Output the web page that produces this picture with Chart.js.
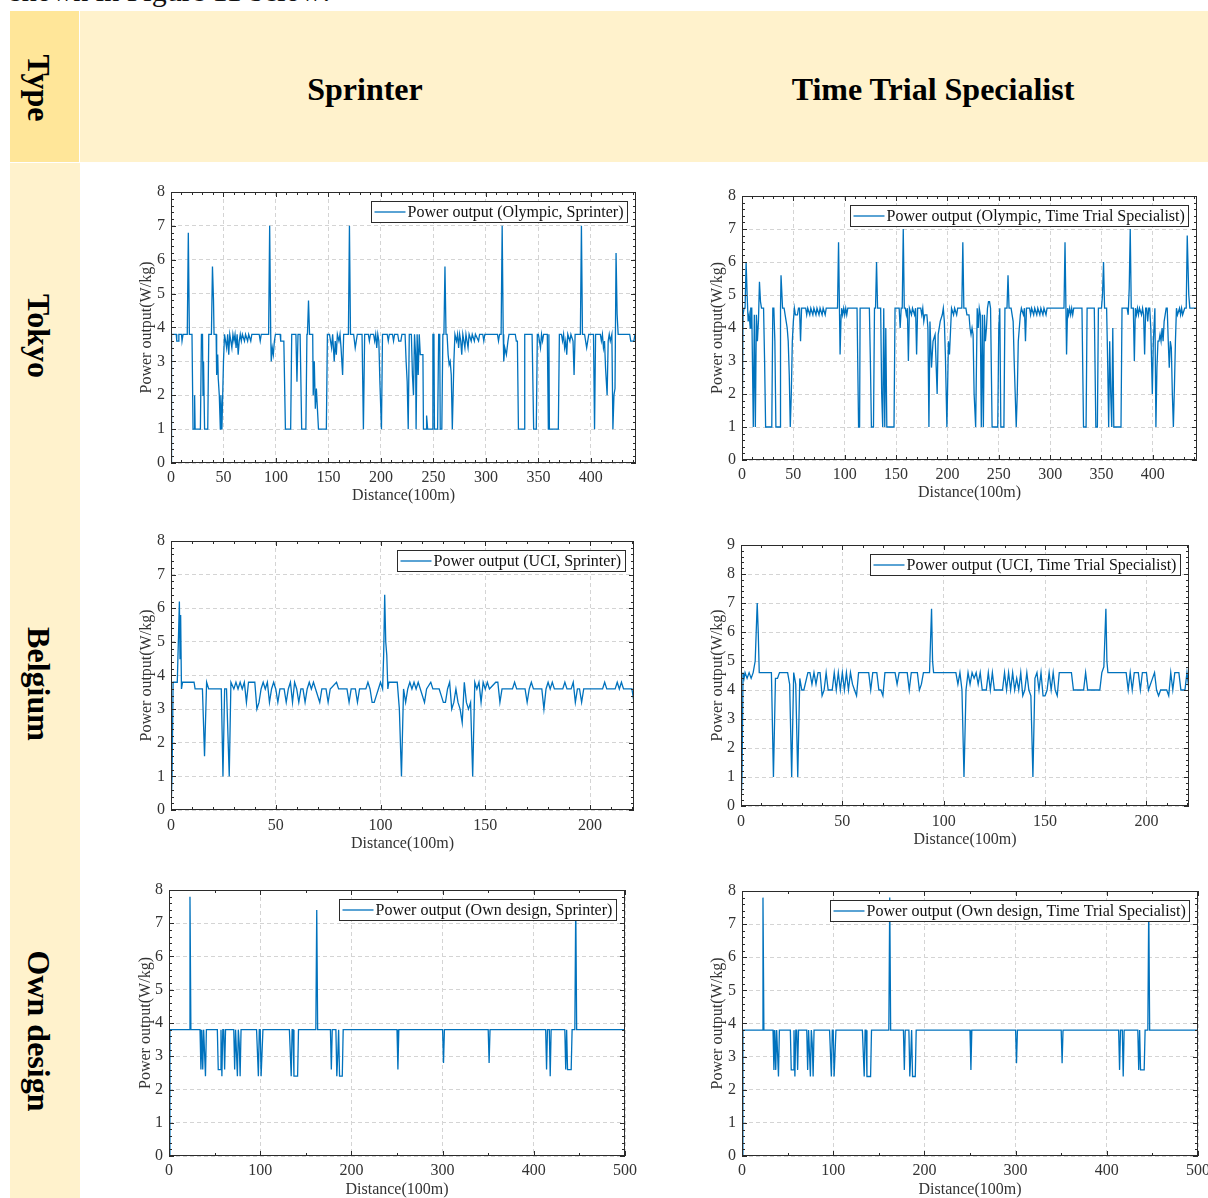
<!DOCTYPE html>
<html>
<head>
<meta charset="utf-8">
<script src="https://cdn.jsdelivr.net/npm/chart.js@4.4.1/dist/chart.umd.min.js"></script>
<style>
  body { margin: 0; width: 1208px; height: 1198px; position: relative; overflow: hidden; background: #fff; font-family: "Liberation Serif", "Times New Roman", serif; }
  .fill { position: absolute; }
  .intro { position: absolute; left: 10px; top: -27px; font-size: 30px; line-height: 36px; color: #111; white-space: nowrap; }
  .head { position: absolute; transform: translate(-50%, -50%); font-weight: bold; font-size: 32px; white-space: nowrap; color: #000; }
  .rot { position: absolute; transform: translate(-50%, -50%) rotate(90deg); font-weight: bold; font-size: 32px; white-space: nowrap; color: #000; }
  canvas { position: absolute; }
</style>
</head>
<body>
<div class="intro">shown in Figure 11 below:</div>
<div class="fill" style="left:80px;top:11px;width:1128px;height:151px;background:#FFF2CC"></div>
<div class="fill" style="left:10px;top:11px;width:69px;height:151px;background:#FFE699"></div>
<div class="fill" style="left:10px;top:163px;width:70px;height:1035px;background:#FFF2CC"></div>
<div class="rot" style="left:38px;top:88px">Type</div>
<div class="head" style="left:365px;top:89px">Sprinter</div>
<div class="head" style="left:933px;top:89px">Time Trial Specialist</div>
<div class="rot" style="left:38px;top:336px">Tokyo</div>
<div class="rot" style="left:38px;top:684px">Belgium</div>
<div class="rot" style="left:38px;top:1031px">Own design</div>

<canvas id="c1"></canvas>
<canvas id="c2"></canvas>
<canvas id="c3"></canvas>
<canvas id="c4"></canvas>
<canvas id="c5"></canvas>
<canvas id="c6"></canvas>

<script>
// power output traces, [distance (100m), W/kg]
const tokyoSprinter = [
  [0,0],[0.5,3.8],[5,3.8],[5.5,3.6],[7,3.6],[7.5,3.8],[10,3.8],[10.5,3.6],[11.5,3.8],[15.5,3.8],[16.5,6.8],[17.5,3.8],
  [20,3.8],[21,1],[22,1],[22.5,2],[23,1],[28,1],[29,3.8],[30,3.8],[30.5,2],[31,3],[32,1],[35,1],[36,3.8],[38.5,3.8],
  [39.5,5.8],[40.5,4.8],[41,3.8],[43,3.8],[43.5,2.6],[44.5,3.2],[45,2.5],[46,2],[47,1],[47.5,2],[48.5,1],[50,3],[51,3.8],
  [52,3.6],[53,3.4],[54,3.8],[55,3.2],[56,3.8],[57,3.6],[58,3.4],[59,3.8],[60,3.6],[61,3.8],[62,3.4],[63,3.8],[64,3.2],
  [65,3.6],[66,3.8],[67,3.6],[68,3.8],[70,3.6],[71,3.8],[73,3.6],[74,3.8],[76,3.6],[77,3.8],[84,3.8],[85,3.6],[86,3.8],
  [93,3.8],[94,7],[95,3.8],[95.5,3],[96.5,3.4],[97.5,3.2],[98.5,3.6],[99.5,3.8],[104,3.8],[104.5,3.6],[107.5,3.6],[109,1],
  [114,1],[115,3.8],[119,3.8],[120,2.4],[121,3.8],[123,3.8],[124.5,1],[128.5,1],[129.5,3.8],[130,3.8],[131,4.8],[132,3.8],
  [135,3.8],[135.5,2],[136.5,3],[137.5,1.6],[138.5,2.2],[140.5,1],[148,1],[149,3.8],[151,3.8],[152,3.6],[153,3.4],[154,3.8],
  [155.5,3],[156.5,3.6],[157.5,3.2],[158.5,3.8],[160,3.6],[161,3.8],[162,3.4],[163.5,2.6],[164.5,3.8],[169,3.8],[170,7],
  [171,3.8],[174,3.8],[175.5,3.4],[176.5,3.6],[177.5,3.8],[182,3.8],[183.3,1],[184.5,3.8],[188,3.8],[189,3.6],[190,3.8],
  [193,3.8],[194,3.6],[195,3.8],[196,3.4],[197,3.8],[198,3.6],[199,2.4],[200.5,1],[201.5,3.8],[206,3.8],[207,3.6],[208,3.8],
  [211,3.8],[212,3.6],[213,3.8],[216,3.8],[217,3.6],[219,3.6],[220,3.8],[223,3.8],[224,3],[225,2.4],[226,1],[227,3.8],
  [229,3.8],[230,2.6],[231,2],[232,3.8],[233,3.2],[233.5,1],[234.5,3.8],[235.5,2.6],[236.5,3.8],[237.5,3.2],[240,3.2],
  [240.5,1],[243,1],[243.5,1.4],[244.5,1],[249,1],[249.5,3.8],[250.5,3.8],[251,1],[254,1],[255,3.8],[256,3.8],[256.5,1],
  [258,1],[259,3.8],[260,3.8],[261,5.8],[262,3.8],[263,3.8],[264,3.2],[265,2.9],[266,3],[267,2.6],[268,1],[269.5,3],
  [270.5,3.8],[272,3.6],[273,3.8],[274,3.4],[275,3.8],[276,3.6],[277,3.2],[278,3.8],[279,3.6],[280,3.4],[281,3.8],[283,3.4],
  [284,3.8],[286,3.6],[287,3.8],[289,3.6],[290,3.8],[293,3.6],[294,3.8],[297,3.8],[298,3.6],[299,3.8],[311,3.8],[312,3.6],
  [313,3.8],[314.5,3.8],[315.5,7],[316.5,3.8],[317,3],[318,3.4],[319.5,3.2],[321,3.6],[322,3.8],[328,3.8],[329,3.6],[330,3.6],
  [331,1],[336.5,1],[337,3.8],[344,3.8],[345.5,1],[348,1],[349,3.8],[350,3.8],[351,3.6],[352,3.4],[353,3.8],[354,3.6],
  [355,3.8],[358.5,3.8],[359.5,1],[360,3.8],[360.5,1],[369,1],[370,3.8],[372,3.8],[373,3.6],[374,3.8],[375,3.4],[376,3.6],
  [377,3.2],[378,3.8],[380,3.6],[381,3.8],[383,3.6],[384,2.6],[385,3.8],[390,3.8],[391,7],[392,3.8],[394,3.8],[395,3.6],
  [396,3.4],[397,3.6],[398,3.8],[402.5,3.8],[403.5,1],[404.5,3.8],[409,3.8],[410,3.6],[411,3.8],[412,3.4],[413,3.6],[414,2.8],
  [415.5,2],[416.5,3.6],[417.5,3.8],[418.5,3.6],[420,3.8],[421,1],[422,2],[423,2.2],[424,6.2],[425,4.4],[426,3.8],[437,3.8],
  [438,3.6],[441,3.6],[442,3.8],[443,3.8]
];

const tokyoTimeTrial = [
  [0,0],[1,4.4],[2,4.6],[3,4.6],[4,6],[5,5],[6,4.2],[7,4.4],[8,4],[8.5,4.6],[9.5,4.6],[11,1],[12,4.4],[13,1],[14,4.4],
  [15,3.6],[16,4.2],[17,5.4],[18,4.8],[19,4.6],[21,4.6],[22,3],[23,1],[29,1],[30,4.6],[31,4.6],[32,3.6],[33,1],[37,1],
  [37.5,4.6],[38,5.6],[39.5,4.6],[41,4.6],[42,4.4],[43,4.2],[44,4],[45,3.6],[46,2.6],[47,1],[48,2],[49,3.6],[50,4.2],
  [51,4.6],[52,4.4],[54,4.4],[55,4.6],[56,4.6],[57,3.6],[58,4.6],[62,4.6],[63,4.4],[64,4.6],[66,4.4],[67,4.6],[69,4.4],
  [70,4.6],[72,4.4],[73,4.6],[75,4.4],[76,4.6],[78,4.4],[79,4.6],[81,4.4],[82,4.6],[93,4.6],[94,6.6],[95.5,3.2],[96.5,4.4],
  [97,4.6],[98,4.4],[99,4.6],[100,4.4],[101,4.6],[102,4.4],[103,4.6],[112,4.6],[113.5,1],[114.5,1],[115,4.6],[124,4.6],
  [125,3],[126,1],[128,1],[129,4.6],[130,4.6],[131,6],[132,4.6],[135,4.6],[136,2],[137,1],[138,4.6],[139,1],[140,4],[141,1],
  [148,1],[149,4.6],[153,4.6],[154,4],[155,4.6],[156,4.6],[157,7],[158,4.6],[159,4.6],[160,4.4],[161,4.6],[162,3],[163,4.6],
  [165,4.4],[166,4.6],[168,4.4],[169,4.6],[170,3.2],[171,4.6],[174,4.6],[175,4.4],[176,4.6],[177,4.2],[178,4.4],[180,4.4],
  [181,4],[182,1],[183,4.2],[184.5,2.8],[186,3.6],[188,3.8],[190,2],[191,3.8],[193,4.2],[195,4.4],[196,4.6],[197,4.2],
  [198,3.2],[199.5,1],[201,3.6],[202,3.2],[204,4.6],[206,4.4],[207,4.6],[209,4.4],[210,4.6],[214,4.6],[215,6.6],[216,4.6],
  [218,4.6],[219,4.4],[221,4.4],[222,4],[223,3.8],[224,4],[225,3.8],[226,2],[227.5,1],[229,4.6],[230,4],[231,4.6],[232,4.4],
  [233,1],[234,4.4],[235,1],[236,4.4],[237,3.6],[238,4],[239,4.6],[240,4.8],[241,4.8],[242,4.6],[243.5,1],[249,1],[250,4],
  [251,4.6],[252,1],[255,1],[256,4.6],[258,4.6],[259,5.6],[260,4.6],[262,4.6],[263,4.4],[264,4.2],[265,3],[266,2],[267,1],
  [268,2],[269,3.6],[270,4],[271,4.4],[272,4.6],[274,4.4],[275,4.6],[276,3.6],[277,4.6],[280,4.6],[281,4.4],[282,4.6],
  [284,4.4],[285,4.6],[287,4.4],[288,4.6],[290,4.4],[291,4.6],[293,4.4],[294,4.6],[296,4.4],[297,4.6],[313.5,4.6],[314.5,6.6],
  [316,3.2],[317,4.6],[318,4.4],[319,4.6],[320,4.4],[321,4.6],[322,4.4],[323,4.6],[331,4.6],[332.5,1],[335,1],[336,4.6],
  [343,4.6],[344.5,1],[346,1],[347,4.6],[350,4.6],[351,5],[352,6],[353,4.6],[355,4.6],[356,3],[357,1],[358,3.6],[359,2],
  [360,1],[361,4],[362,1],[369,1],[370,4.6],[375,4.6],[376,4.4],[377,5.2],[378,7],[379,4.6],[381,4.6],[382,3],[383,4.6],
  [384,4.4],[385,4.6],[386,4.4],[387,4.6],[389,4.4],[390,4.6],[391,4.4],[392,3.2],[393,4.6],[394,4.6],[395,4.2],[396,4.6],
  [397,4.6],[398,4],[399.5,2],[400.5,3.6],[402,4.6],[403,1],[404,2.8],[405,3.6],[406,3.6],[407,3.8],[408,3.6],[409,4],
  [410,3.6],[411,4.2],[412,4.4],[413,4.6],[414,4.6],[415,3.6],[416,2.8],[417,3.6],[418,3.4],[419,2],[420,1],[421,2.2],
  [422,3.6],[423,4.6],[424,4.4],[426,4.6],[427,4.4],[428,4.6],[429,4.4],[431,4.6],[432.5,4.6],[433.5,6.8],[435,5],[436,4.6],
  [443,4.6]
];

const belgiumSprinter = [
  [0,0],[0.5,1],[1,3.8],[3,3.8],[3.5,5],[4,6.2],[4.3,4.5],[4.6,5.8],[5,3.6],[5.5,3.8],[11,3.8],[11.5,3.6],[15,3.6],[16,1.6],
  [17,3.8],[18,3.6],[24,3.6],[24.8,1],[25.6,3.6],[26.5,3.6],[27.8,1],[28.6,3.8],[30,3.6],[31,3.8],[32,3.6],[33,3.8],[34,3.6],
  [35,3.8],[36,3.2],[37,3.8],[40,3.8],[41,3],[42,3.2],[43,3.6],[44,3.8],[45,3.6],[46,3.8],[47,3.2],[48,3.6],[49,3.8],[50,3.6],
  [51,3.2],[52,3.6],[54,3.6],[55,3.2],[56,3.6],[57,3.8],[58,3.2],[59,3.8],[60,3.6],[61,3.2],[62,3.6],[63,3.6],[64,3.2],
  [65,3.6],[66,3.8],[67,3.6],[68,3.8],[69,3.6],[71,3.2],[72,3.6],[74,3.6],[75,3.2],[76,3.6],[79,3.8],[80,3.6],[84,3.6],
  [85,3.2],[86,3.6],[88,3.6],[89,3.2],[90,3.6],[93,3.6],[94,3.8],[95,3.6],[96,3.2],[97,3.2],[98,3.4],[99,3.6],[100,3.8],
  [101,3.6],[101.5,4.6],[102,6.4],[102.5,5],[103,4.6],[103.5,3.6],[104,3.8],[108,3.8],[109,3],[110,1],[111,3.6],[112,3.2],
  [113,3.6],[114,3.8],[115,3.6],[116,3.8],[117,3.6],[118,3.8],[119,3.6],[121,3.2],[122,3.6],[124,3.8],[125,3.6],[128,3.6],
  [129,3.4],[130,3.2],[131,3.2],[132,3.6],[133,3.8],[134,3],[135,3.2],[136,3.6],[137,3.2],[138,3],[139,2.6],[140,3.8],
  [141,3.2],[142,3],[143,3.2],[144,1],[145,3.8],[146,3.6],[147,3.8],[148,3.2],[149,3.8],[150,3.6],[151,3.8],[152,3.6],
  [155,3.8],[156,3.8],[157,3.2],[158,3.6],[163,3.6],[164,3.8],[165,3.6],[169,3.6],[170,3.2],[171,3.6],[172,3.8],[173,3.6],
  [177,3.6],[178,3],[179,3.6],[180,3.8],[181,3.6],[182,3.8],[183,3.6],[187,3.6],[188,3.8],[189,3.6],[191,3.6],[192,3.8],
  [193,3.2],[194,3.6],[195,3.6],[196,3.2],[197,3.6],[206,3.6],[207,3.8],[208,3.6],[212,3.6],[213,3.8],[214,3.6],[215,3.8],
  [216,3.6],[220,3.6],[221,3.2]
];

const belgiumTimeTrial = [
  [0,0],[0.5,1],[1,4.6],[1.5,4.4],[2,4.6],[3,4.4],[4,4.6],[5,4.4],[6,4.6],[7,5],[8,7],[8.5,6],[9,4.6],[15,4.6],[16,1],
  [17,4.4],[18,4.4],[19,4.6],[23,4.6],[24,4.2],[25,1],[26,4.6],[27,4.2],[28,1],[29,4.4],[30,4],[31,4],[33,4.6],[34,4.6],
  [35,4.2],[36,4.6],[37,4.2],[38,4.6],[39,4.6],[40,3.8],[41,4],[42,4.6],[43,4],[45,4],[46,4.6],[47,4],[48,4.6],[49,4],
  [50,4.6],[51,4],[52,4.6],[53,4],[54,4.6],[55,4.2],[56,4],[57,3.8],[58,4.6],[63,4.6],[64,4],[65,4.6],[67,4.6],[68,4],
  [69,4],[70,3.8],[71,4.6],[76,4.6],[77,4.2],[78,4.6],[82,4.6],[83,4],[84,4.6],[87,4.6],[88,4],[89,4.2],[90,4.6],[93,4.6],
  [94,6.8],[94.5,5],[95,4.6],[106,4.6],[107,4.2],[108,4.6],[109,4],[110,1],[111,4],[112,4.6],[113,4.2],[114,4.6],[115,4.4],
  [116,4.6],[117,4.2],[118,4.6],[119,4],[121,4],[122,4.6],[123,4],[124,4.6],[125,4],[129,4],[130,4.6],[131,4],[132,4.6],
  [133,4],[134,4.6],[135,4],[136,4.4],[137,4],[138,4.6],[139,3.8],[140,4],[141,4.6],[142,4],[143,3.8],[144,1],[145,4.4],
  [146,4.6],[147,4],[148,4.6],[149,3.8],[150,3.8],[151,4],[152,4.6],[153,4],[154,4.6],[155,4],[156,3.8],[157,4.6],[163,4.6],
  [164,4],[169,4],[170,4.6],[171,4],[177,4],[178,4.6],[179,4.8],[180,6.8],[180.5,5],[181,4.6],[190,4.6],[191,4],[192,4.6],
  [193,4],[194,4.6],[196,4.6],[197,4],[198,4.6],[200,4.6],[201,4],[203,4.4],[204,4.6],[205,4],[206,3.8],[207,4],[210,4],
  [211,3.8],[212,4.6],[213,4],[214,4.6],[216,4.6],[217,4],[219,4],[220,4.6],[221,4]
];

const ownSprinter = [
  [0,0],[1,3.8],[22,3.8],[23,7.8],[24,3.8],[34,3.8],[35,2.6],[36,3.8],[37,2.6],[38,3.8],[40,2.4],[41,3.8],[53,3.8],[54,2.6],
  [56,2.6],[57,3.8],[58,2.4],[59,3.8],[60,3.8],[61,2.6],[62,3.8],[71,3.8],[72,2.6],[73,3.8],[75,2.4],[76,3.8],[77,3.4],
  [78,2.4],[79,3.8],[96,3.8],[98,2.4],[99,3.8],[100,3.8],[101,2.4],[103,3.8],[132,3.8],[134,2.4],[135,3.8],[136,3.8],
  [137,2.4],[141,2.4],[142,3.8],[161,3.8],[162,7.4],[163,3.8],[177,3.8],[178,2.6],[179,3.8],[183,3.8],[184,2.4],[185,3],
  [186,3.8],[187,2.4],[190,2.4],[191,3.8],[250,3.8],[251,2.6],[252,3.8],[300,3.8],[301,2.8],[302,3.8],[350,3.8],[351,2.8],
  [352,3.8],[413,3.8],[414,2.6],[415,3.8],[417,3.8],[418,2.4],[419,3.8],[434,3.8],[435,2.6],[436,3.8],[437,2.6],[441,2.6],
  [442,3.8],[445,3.8],[446,7.6],[447,3.8],[500,3.8]
];

const ownTimeTrial = [
  [0,0],[1,3.8],[22,3.8],[23,7.8],[24,3.8],[34,3.8],[35,2.6],[36,3.8],[37,2.6],[38,3.8],[40,2.4],[41,3.8],[53,3.8],[54,2.6],
  [56,2.6],[57,3.8],[58,2.4],[59,3.8],[60,3.8],[61,2.6],[62,3.8],[71,3.8],[72,2.6],[73,3.8],[75,2.4],[76,3.8],[77,3.4],
  [78,2.4],[79,3.8],[96,3.8],[98,2.4],[99,3.8],[100,3.8],[101,2.4],[103,3.8],[132,3.8],[134,2.4],[135,3.8],[136,3.8],
  [137,2.4],[141,2.4],[142,3.8],[161,3.8],[162,7.8],[163,3.8],[177,3.8],[178,2.6],[179,3.8],[183,3.8],[184,2.4],[185,3],
  [186,3.8],[187,2.4],[190,2.4],[191,3.8],[250,3.8],[251,2.6],[252,3.8],[300,3.8],[301,2.8],[302,3.8],[350,3.8],[351,2.8],
  [352,3.8],[413,3.8],[414,2.6],[415,3.8],[417,3.8],[418,2.4],[419,3.8],[434,3.8],[435,2.6],[436,3.8],[437,2.6],[441,2.6],
  [442,3.8],[445,3.8],[446,7.6],[447,3.8],[500,3.8]
];

const legendLabels = [
  'Power output (Olympic, Sprinter)',
  'Power output (Olympic, Time Trial Specialist)',
  'Power output (UCI, Sprinter)',
  'Power output (UCI, Time Trial Specialist)',
  'Power output (Own design, Sprinter)',
  'Power output (Own design, Time Trial Specialist)'
];

const lineBlue = '#0072BD';
Chart.defaults.font.family = '"Liberation Serif", "Times New Roman", serif';
Chart.defaults.color = '#333';

// frame, inward ticks and in-plot legend (MATLAB look)
const framePlugin = {
  id: 'frame',
  afterDraw(chart, args, o) {
    const { ctx, chartArea: a } = chart;
    const xs = chart.scales.x, ys = chart.scales.y;
    ctx.save();
    ctx.strokeStyle = '#2b2b2b';
    ctx.lineWidth = 1;
    ctx.beginPath();
    for (let v = 0; v <= o.xMax + 1e-6; v += o.xMinor) {
      const px = Math.round(xs.getPixelForValue(v)) + 0.5;
      const major = Math.abs(v / o.xStep - Math.round(v / o.xStep)) < 1e-6;
      const len = major ? 5 : 3;
      ctx.moveTo(px, a.bottom); ctx.lineTo(px, a.bottom - len);
      ctx.moveTo(px, a.top); ctx.lineTo(px, a.top + len);
    }
    for (let v = 0; v <= o.yMax + 1e-6; v += 0.2) {
      const py = Math.round(ys.getPixelForValue(v)) + 0.5;
      const major = Math.abs(v - Math.round(v)) < 1e-6;
      const len = major ? 5 : 3;
      ctx.moveTo(a.left, py); ctx.lineTo(a.left + len, py);
      ctx.moveTo(a.right, py); ctx.lineTo(a.right - len, py);
    }
    ctx.stroke();
    ctx.strokeRect(a.left + 0.5, a.top + 0.5, a.width - 1, a.height - 1);

    ctx.font = '16px "Liberation Serif"';
    const tw = ctx.measureText(o.label).width;
    const bw = Math.round(tw + 40), bh = 21;
    const bx = Math.round(a.right - 9 - bw) + 0.5, by = Math.round(a.top + 9) + 0.5;
    ctx.fillStyle = '#fff';
    ctx.fillRect(bx, by, bw, bh);
    ctx.strokeStyle = '#2b2b2b';
    ctx.strokeRect(bx, by, bw, bh);
    ctx.strokeStyle = lineBlue;
    ctx.lineWidth = 1.3;
    ctx.beginPath();
    ctx.moveTo(bx + 3, by + bh / 2);
    ctx.lineTo(bx + 34, by + bh / 2);
    ctx.stroke();
    ctx.fillStyle = '#111';
    ctx.textBaseline = 'middle';
    ctx.fillText(o.label, bx + 36, by + bh / 2 + 1);
    ctx.restore();
  }
};

const panels = [
  { id: 'c1', data: tokyoSprinter, label: legendLabels[0], xMax: 443, xStep: 50, xMinor: 10, yMax: 8,
    box: [130, 180, 520, 330], area: [171, 192, 636, 463], yTitleX: 147, xTickY: 478, xTitleY: 496 },
  { id: 'c2', data: tokyoTimeTrial, label: legendLabels[1], xMax: 443, xStep: 50, xMinor: 10, yMax: 8,
    box: [700, 185, 508, 320], area: [742, 196, 1197, 460], yTitleX: 718, xTickY: 475, xTitleY: 493 },
  { id: 'c3', data: belgiumSprinter, label: legendLabels[2], xMax: 221, xStep: 50, xMinor: 10, yMax: 8,
    box: [130, 530, 520, 330], area: [171, 541, 634, 810], yTitleX: 147, xTickY: 826, xTitleY: 844 },
  { id: 'c4', data: belgiumTimeTrial, label: legendLabels[3], xMax: 221, xStep: 50, xMinor: 10, yMax: 9,
    box: [700, 535, 508, 320], area: [741, 545, 1189, 806], yTitleX: 718, xTickY: 822, xTitleY: 840 },
  { id: 'c5', data: ownSprinter, label: legendLabels[4], xMax: 500, xStep: 100, xMinor: 50, yMax: 8,
    box: [130, 880, 520, 330], area: [169, 890, 625, 1156], yTitleX: 146, xTickY: 1171, xTitleY: 1190 },
  { id: 'c6', data: ownTimeTrial, label: legendLabels[5], xMax: 500, xStep: 100, xMinor: 50, yMax: 8,
    box: [700, 880, 508, 330], area: [742, 891, 1198, 1156], yTitleX: 718, xTickY: 1171, xTitleY: 1190 }
];

panels.forEach(p => {
  const [bl, bt, bw, bh] = p.box;
  const [al, at, ar, ab] = p.area;
  const cv = document.getElementById(p.id);
  cv.width = bw; cv.height = bh;
  cv.style.left = bl + 'px'; cv.style.top = bt + 'px';
  const half = 9.6;

  new Chart(cv, {
    type: 'line',
    data: {
      datasets: [{
        data: p.data.map(d => ({ x: d[0], y: d[1] })),
        borderColor: lineBlue,
        borderWidth: 1.3,
        pointRadius: 0,
        tension: 0,
        fill: false
      }]
    },
    options: {
      responsive: false,
      animation: false,
      devicePixelRatio: 1,
      layout: { padding: { top: at - bt, right: bl + bw - ar, left: 0, bottom: 0 } },
      plugins: {
        legend: { display: false },
        tooltip: { enabled: false },
        frame: { label: p.label, xMax: p.xMax, xStep: p.xStep, xMinor: p.xMinor, yMax: p.yMax }
      },
      scales: {
        x: {
          type: 'linear', min: 0, max: p.xMax,
          grid: { color: '#d4d4d4', lineWidth: 1, drawTicks: false },
          border: { display: false, dash: [4, 3] },
          ticks: { stepSize: p.xStep, includeBounds: false, autoSkip: false, maxRotation: 0,
                   padding: p.xTickY - ab - half, font: { size: 16 }, color: '#333' },
          title: { display: true, text: 'Distance(100m)', font: { size: 16 }, color: '#333',
                   padding: { top: 0, bottom: bt + bh - p.xTitleY - half } },
          afterFit(s) { s.height = bt + bh - ab; s.paddingLeft = 0; s.paddingRight = 0; }
        },
        y: {
          min: 0, max: p.yMax,
          grid: { color: '#d4d4d4', lineWidth: 1, drawTicks: false },
          border: { display: false, dash: [4, 3] },
          ticks: { stepSize: 1, padding: 6, font: { size: 16 }, color: '#333' },
          title: { display: true, text: 'Power output(W/kg)', font: { size: 16 }, color: '#333',
                   padding: { top: p.yTitleX - bl - half, bottom: 0 } },
          afterFit(s) { s.width = al - bl; s.paddingTop = 0; s.paddingBottom = 0; }
        }
      }
    },
    plugins: [framePlugin]
  });
});
</script>
</body>
</html>
